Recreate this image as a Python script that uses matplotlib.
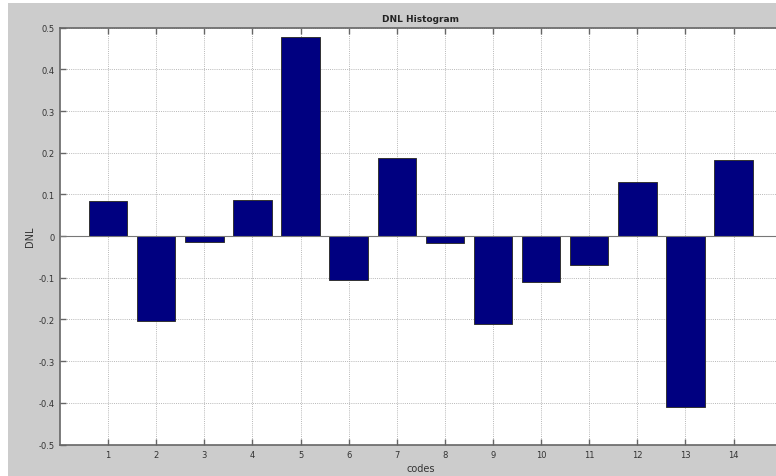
import numpy as np
import matplotlib
matplotlib.use("Agg")
import matplotlib.pyplot as plt
from matplotlib.patches import Rectangle

codes = np.arange(1, 15)
dnl = [0.084, -0.204, -0.013, 0.087, 0.477, -0.105, 0.187,
       -0.016, -0.212, -0.111, -0.069, 0.130, -0.411, 0.182]
yticks = [-0.5, -0.4, -0.3, -0.2, -0.1, 0, 0.1, 0.2, 0.3, 0.4, 0.5]

fig = plt.figure(figsize=(7.76, 4.77), dpi=100, facecolor="white")
# grey figure panel, offset a few pixels from the top-left corner
fig.patches.append(Rectangle((8 / 776, 0), 1, 1 - 4 / 477, transform=fig.transFigure,
                             facecolor="#cccccc", edgecolor="none", zorder=-10))

W, H = 776, 477
left, top, bottom, right = 60, 28.7, 445.5, 781.7
ax = fig.add_axes([left / W, 1 - bottom / H, (right - left) / W, (bottom - top) / H])
ax.set_facecolor("white")

ax.bar(codes, dnl, width=0.8, color="#000080", edgecolor="#333333", linewidth=0.7,
       zorder=3)
ax.axhline(0, color="#777777", lw=0.8, zorder=4)

ax.set_xlim(0, 15)
ax.set_ylim(-0.5, 0.5)
ax.set_xticks(codes)
ax.set_yticks(yticks)
ax.set_yticklabels([f"{v:g}" for v in yticks])
ax.tick_params(direction="in", length=4, width=1, color="#666666", labelsize=6,
               labelcolor="#333333", top=True, right=False, pad=4)
ax.grid(True, color="#b8b8b8", linestyle=(0, (1, 1.2)), linewidth=0.7, zorder=0)
for side, sp in ax.spines.items():
    sp.set_color("#666666")
    sp.set_linewidth(1.2)

ax.set_title("DNL Histogram", fontsize=6.5, fontweight="bold", color="#222222", pad=5)
ax.set_xlabel("codes", fontsize=7, color="#333333", labelpad=3)
ax.set_ylabel("DNL", fontsize=7, color="#333333", labelpad=2)

fig.savefig("out.png", dpi=100, facecolor=fig.get_facecolor())
